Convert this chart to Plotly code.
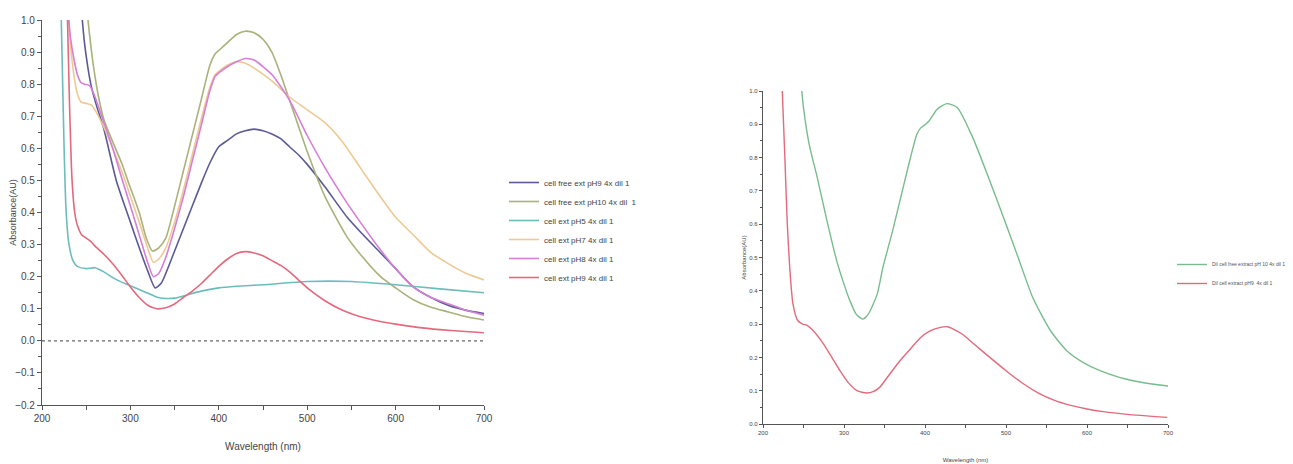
import plotly.graph_objects as go

# ---------------- Left panel data ----------------
free_pH9_wl = [244, 248, 252, 256, 262, 270, 284, 300, 310, 320, 328, 335, 340, 350, 360, 370, 380, 390, 400, 410, 420, 430, 440, 450, 460, 470, 480, 490, 500, 520, 545, 560, 583, 600, 620, 640, 660, 680, 700]
free_pH9_abs = [1.05, 0.93, 0.85, 0.79, 0.73, 0.66, 0.50, 0.37, 0.29, 0.215, 0.165, 0.18, 0.21, 0.28, 0.35, 0.42, 0.49, 0.555, 0.605, 0.625, 0.645, 0.655, 0.66, 0.655, 0.645, 0.63, 0.605, 0.58, 0.55, 0.48, 0.386, 0.34, 0.274, 0.225, 0.168, 0.135, 0.11, 0.095, 0.085]

free_pH10_wl = [250, 254, 258, 264, 270, 280, 290, 297, 310, 318, 325, 332, 340, 350, 360, 370, 380, 390, 396, 400, 410, 420, 430, 440, 450, 460, 470, 480, 490, 500, 520, 545, 560, 583, 600, 620, 640, 660, 680, 700]
free_pH10_abs = [1.05, 0.95, 0.86, 0.76, 0.69, 0.62, 0.555, 0.50, 0.40, 0.32, 0.28, 0.29, 0.32, 0.42, 0.53, 0.64, 0.75, 0.86, 0.895, 0.905, 0.93, 0.955, 0.965, 0.96, 0.94, 0.90, 0.83, 0.75, 0.67, 0.59, 0.45, 0.324, 0.27, 0.20, 0.165, 0.128, 0.105, 0.09, 0.075, 0.065]

ext_pH5_wl = [221, 223, 225, 227, 230, 235, 240, 250, 260, 270, 280, 290, 300, 310, 320, 330, 340, 350, 360, 380, 400, 420, 450, 500, 550, 600, 650, 700]
ext_pH5_abs = [1.1, 0.85, 0.6, 0.42, 0.31, 0.25, 0.232, 0.225, 0.228, 0.215, 0.197, 0.183, 0.172, 0.16, 0.148, 0.136, 0.132, 0.133, 0.14, 0.155, 0.165, 0.17, 0.175, 0.185, 0.185, 0.175, 0.162, 0.15]

ext_pH7_wl = [229, 232, 236, 240, 244, 250, 256, 262, 270, 280, 294, 300, 310, 320, 326, 332, 340, 350, 360, 370, 380, 390, 396, 400, 410, 420, 430, 440, 460, 480, 500, 520, 540, 560, 580, 600, 620, 640, 660, 680, 700]
ext_pH7_abs = [1.05, 0.93, 0.83, 0.77, 0.745, 0.74, 0.735, 0.71, 0.665, 0.60, 0.50, 0.45, 0.37, 0.285, 0.245, 0.255, 0.29, 0.37, 0.47, 0.58, 0.69, 0.79, 0.83, 0.84, 0.86, 0.87, 0.865, 0.85, 0.81, 0.76, 0.72, 0.68, 0.62, 0.54, 0.46, 0.385, 0.33, 0.275, 0.24, 0.21, 0.19]

ext_pH8_wl = [229, 232, 236, 240, 244, 248, 254, 260, 270, 280, 291, 300, 310, 320, 326, 332, 340, 350, 360, 370, 380, 390, 396, 400, 410, 420, 430, 440, 460, 480, 500, 520, 545, 560, 583, 600, 620, 640, 660, 680, 700]
ext_pH8_abs = [1.05, 0.95, 0.88, 0.83, 0.805, 0.80, 0.795, 0.76, 0.68, 0.60, 0.50, 0.42, 0.33, 0.24, 0.20, 0.21, 0.26, 0.35, 0.45, 0.56, 0.67, 0.78, 0.825, 0.835, 0.855, 0.87, 0.88, 0.875, 0.83, 0.75, 0.64, 0.54, 0.43, 0.37, 0.283, 0.225, 0.168, 0.135, 0.115, 0.095, 0.08]

ext_pH9_wl = [228, 231, 234, 237, 240, 245, 250, 255, 260, 270, 280, 290, 300, 310, 320, 330, 340, 350, 360, 370, 380, 390, 400, 410, 420, 430, 440, 450, 460, 470, 480, 490, 500, 520, 540, 560, 580, 600, 625, 650, 675, 700]
ext_pH9_abs = [1.1, 0.75, 0.5, 0.4, 0.36, 0.33, 0.32, 0.31, 0.295, 0.27, 0.24, 0.205, 0.168, 0.135, 0.11, 0.10, 0.103, 0.115, 0.135, 0.155, 0.178, 0.205, 0.232, 0.255, 0.272, 0.278, 0.274, 0.265, 0.25, 0.235, 0.215, 0.19, 0.165, 0.125, 0.095, 0.075, 0.062, 0.052, 0.042, 0.035, 0.03, 0.025]

left_names = ["cell free ext pH9 4x dil 1", "cell free ext pH10 4x dil  1", "cell ext pH5 4x dil 1",
              "cell ext pH7 4x dil 1", "cell ext pH8 4x dil 1", "cell ext pH9 4x dil 1"]
left_colors = ["#5b5a96", "#aab27a", "#6dbcbc", "#efc993", "#d57fd6", "#e4697d"]

# ---------------- Right panel data ----------------
dil_pH10_wl = [246, 250, 257, 267, 279, 291, 300, 307, 315, 323, 330, 341, 348, 360, 369, 380, 390, 395, 398, 405, 415, 427, 440, 459, 480, 500, 515, 533, 555, 575, 595, 616, 640, 657, 680, 700]
dil_pH10_abs = [1.05, 0.95, 0.84, 0.74, 0.61, 0.49, 0.42, 0.372, 0.33, 0.315, 0.33, 0.39, 0.47, 0.58, 0.67, 0.78, 0.87, 0.89, 0.895, 0.91, 0.945, 0.962, 0.95, 0.86, 0.73, 0.60, 0.50, 0.38, 0.28, 0.22, 0.185, 0.16, 0.14, 0.13, 0.12, 0.114]

dil_pH9_wl = [223, 227, 230, 233, 237, 243, 249, 254, 260, 274, 285, 295, 305, 316, 328, 336, 344, 355, 369, 380, 394, 405, 419, 428, 435, 447, 459, 480, 500, 520, 540, 560, 580, 600, 620, 650, 699]
dil_pH9_abs = [1.05, 0.8, 0.6, 0.47, 0.36, 0.31, 0.30, 0.297, 0.285, 0.243, 0.2, 0.16, 0.125, 0.10, 0.093, 0.097, 0.11, 0.145, 0.19, 0.22, 0.258, 0.278, 0.29, 0.292, 0.285, 0.268, 0.243, 0.2, 0.16, 0.123, 0.093, 0.071, 0.056, 0.045, 0.037, 0.029, 0.02]

right_names = ["Dil cell free extract pH 10 4x dil 1", "Dil cell extract pH9  4x dil 1"]
right_colors = ["#78bc8e", "#e26a7c"]

# page has an 8px body margin, so the figure is drawn 8px in from the top-left
OFF = 8
W, H = 1293 - OFF, 464 - OFF
FONT = "Liberation Sans Narrow, Liberation Sans, Arial, sans-serif"

fig = go.Figure()

left_series = [(free_pH9_wl, free_pH9_abs), (free_pH10_wl, free_pH10_abs), (ext_pH5_wl, ext_pH5_abs),
               (ext_pH7_wl, ext_pH7_abs), (ext_pH8_wl, ext_pH8_abs), (ext_pH9_wl, ext_pH9_abs)]
for (wl, ab), name, col in zip(left_series, left_names, left_colors):
    fig.add_trace(go.Scatter(x=wl, y=ab, name=name, mode="lines",
                             line=dict(color=col, width=1.6, shape="spline", smoothing=0.6),
                             xaxis="x", yaxis="y", legend="legend"))

right_series = [(dil_pH10_wl, dil_pH10_abs), (dil_pH9_wl, dil_pH9_abs)]
for (wl, ab), name, col in zip(right_series, right_names, right_colors):
    fig.add_trace(go.Scatter(x=wl, y=ab, name=name, mode="lines",
                             line=dict(color=col, width=1.4, shape="spline", smoothing=0.6),
                             xaxis="x2", yaxis="y2", legend="legend2"))

# dotted zero line in left panel
fig.add_shape(type="line", xref="x", yref="y", x0=200, x1=700, y0=0, y1=0,
              line=dict(color="#666666", width=1.2, dash="dot"))


def px_x(p):
    # p: screen pixel
    return (p - OFF) / W


def px_y(p):
    return 1 - (p - OFF) / H


def axis(size, **kw):
    d = dict(showgrid=False, zeroline=False, showline=True, linecolor="#555555", linewidth=1.2,
             ticks="outside", tickcolor="#555555", automargin=False,
             tickfont=dict(family=FONT, size=size, color="#444444"))
    d.update(kw)
    return d


fig.update_layout(
    width=W, height=H,
    margin=dict(l=0, r=0, t=0, b=0, autoexpand=False),
    paper_bgcolor="white", plot_bgcolor="white",
    xaxis=axis(10, domain=[px_x(42), px_x(484)], range=[200, 700], dtick=100, ticklen=4,
               minor=dict(dtick=50, ticks="outside", ticklen=4, tickcolor="#555555"),
               title=dict(text="Wavelength (nm)", font=dict(family=FONT, size=10, color="#444444"), standoff=19),
               anchor="y"),
    yaxis=axis(10, domain=[px_y(405), px_y(20)], range=[-0.2, 1.0], dtick=0.1, tickformat=".1f", ticklen=4,
               minor=dict(dtick=0.05, ticks="outside", ticklen=3, tickcolor="#555555"),
               title=dict(text="Absorbance(AU)", font=dict(family=FONT, size=9, color="#444444"), standoff=0),
               anchor="x"),
    xaxis2=axis(6, domain=[px_x(763), px_x(1168)], range=[200, 700], dtick=100, ticklen=3,
                minor=dict(dtick=50, ticks="outside", ticklen=3, tickcolor="#555555"),
                title=dict(text="Wavelength (nm)", font=dict(family=FONT, size=6, color="#444444"), standoff=22),
                anchor="y2"),
    yaxis2=axis(6, domain=[px_y(424), px_y(91)], range=[0, 1.0], dtick=0.1, tickformat=".1f", ticklen=3,
                minor=dict(dtick=0.05, ticks="outside", ticklen=2, tickcolor="#555555"),
                title=dict(text="Absorbance(AU)", font=dict(family=FONT, size=6, color="#444444"), standoff=2),
                anchor="x2"),
    legend=dict(x=px_x(504), y=px_y(168), xanchor="left", yanchor="top",
                font=dict(family=FONT, size=8, color="#444444"), itemwidth=30,
                bgcolor="rgba(0,0,0,0)", tracegroupgap=0),
    legend2=dict(x=px_x(1172), y=px_y(250), xanchor="left", yanchor="top",
                 font=dict(family=FONT, size=5, color="#555555"), itemwidth=30,
                 bgcolor="rgba(0,0,0,0)"),
    showlegend=True,
)

fig.write_html("out.html")
